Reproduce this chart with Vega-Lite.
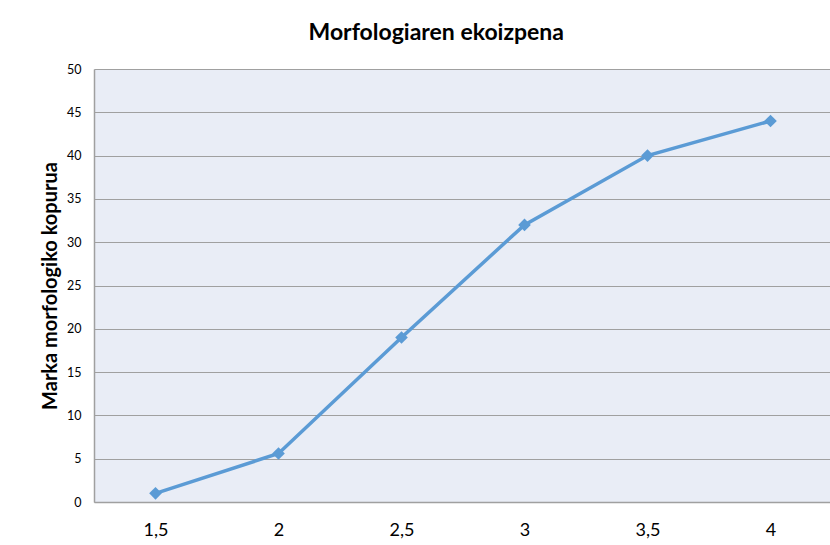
{
  "$schema": "https://vega.github.io/schema/vega-lite/v6.json",
  "autosize": "none",
  "width": 738,
  "height": 433,
  "padding": {"left": 94, "top": 69, "right": 0, "bottom": 43},
  "background": "white",
  "title": {
    "text": "Morfologiaren ekoizpena",
    "font": "Lato",
    "fontSize": 23,
    "fontWeight": "bold",
    "color": "#000000",
    "anchor": "middle",
    "frame": "bounds",
    "offset": 18
  },
  "data": {
    "values": [
      {"x": "1,5", "y": 1.0},
      {"x": "2", "y": 5.6},
      {"x": "2,5", "y": 19.0},
      {"x": "3", "y": 32.0},
      {"x": "3,5", "y": 40.0},
      {"x": "4", "y": 44.0}
    ]
  },
  "config": {
    "view": {"fill": "#E9EDF6", "stroke": null},
    "axis": {"labelFont": "Lato", "titleFont": "Lato", "labelColor": "#000000", "titleColor": "#000000"}
  },
  "encoding": {
    "x": {
      "field": "x",
      "type": "ordinal",
      "sort": null,
      "scale": {"type": "point", "padding": 0.5},
      "axis": {
        "title": null,
        "labelAngle": 0,
        "labelFontSize": 18,
        "labelPadding": 19,
        "ticks": false,
        "domainColor": "#A0A0A0",
        "domainWidth": 1.5,
        "grid": false
      }
    },
    "y": {
      "field": "y",
      "type": "quantitative",
      "scale": {"domain": [0, 50], "nice": false},
      "axis": {
        "title": "Marka morfologiko kopurua",
        "titleFontSize": 20,
        "titleFontWeight": "bold",
        "titlePadding": 6,
        "values": [0, 5, 10, 15, 20, 25, 30, 35, 40, 45, 50],
        "labelFontSize": 12.5,
        "labelPadding": 13,
        "ticks": false,
        "domainColor": "#A0A0A0",
        "domainWidth": 1.5,
        "grid": true,
        "gridColor": "#A0A0A0",
        "gridWidth": 1.2
      }
    }
  },
  "layer": [
    {
      "mark": {"type": "line", "color": "#5B9BD5", "strokeWidth": 3.5}
    },
    {
      "mark": {"type": "point", "shape": "diamond", "filled": true, "color": "#5B9BD5", "size": 160, "opacity": 1}
    }
  ]
}
